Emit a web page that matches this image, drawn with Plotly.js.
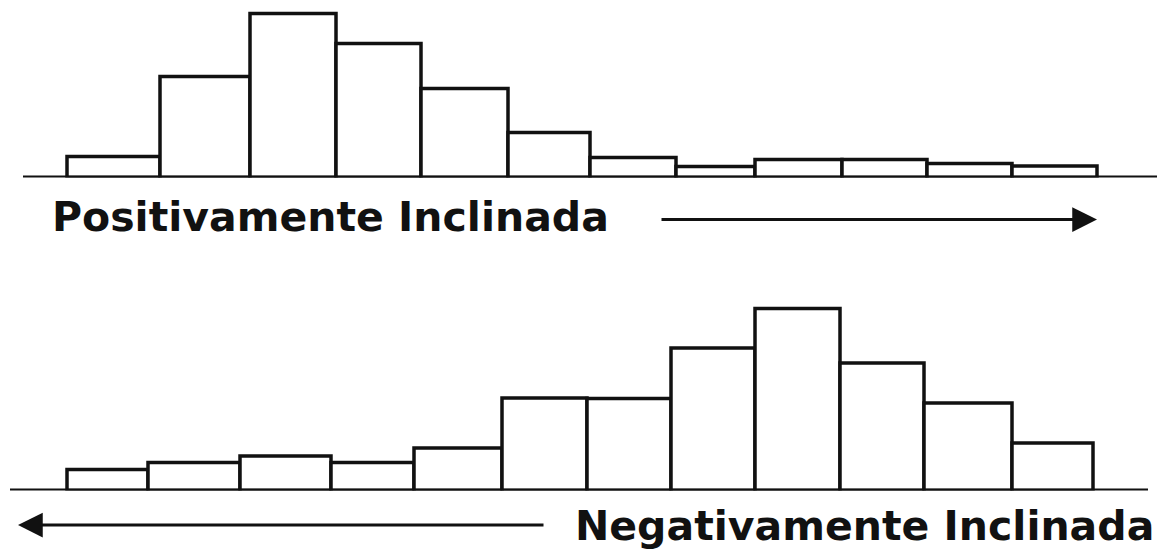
<!DOCTYPE html>
<html>
<head>
<meta charset="utf-8">
<script src="https://cdn.plot.ly/plotly-3.0.1.min.js"></script>
<style>
  html, body { margin: 0; padding: 0; background: #ffffff; }
  #chart { width: 1157px; height: 549px; }
</style>
</head>
<body>
<div id="chart"></div>
<script>
// ---- Data (bin edges and frequencies) ----
const topEdges = [67, 160, 250, 336, 421, 508, 590, 676, 755, 842, 927, 1012, 1097];
const topFreq = [21, 101, 164, 134, 89, 45, 20, 11, 18, 18, 14, 11.5];
const bottomEdges = [67, 148, 240, 331, 414, 502, 587, 671, 755, 840, 924, 1012, 1093];
const bottomFreq = [21, 28, 34.5, 28, 42.5, 92.5, 92, 142.5, 182, 127.5, 87.5, 47.5];
const topLabel = 'Positivamente Inclinada';
const bottomLabel = 'Negativamente Inclinada';

// ---- Helpers ----
function centers(edges) { return edges.slice(0, -1).map((e, i) => (e + edges[i + 1]) / 2); }
function widths(edges) { return edges.slice(0, -1).map((e, i) => edges[i + 1] - e); }

const W = 1157, H = 549;
const ink = '#111111';
const lineW = 3.5;

const traces = [
  {
    type: 'bar', x: centers(topEdges), y: topFreq, width: widths(topEdges),
    xaxis: 'x', yaxis: 'y', cliponaxis: false, hoverinfo: 'skip',
    marker: { color: '#ffffff', line: { color: ink, width: lineW } }
  },
  {
    type: 'bar', x: centers(bottomEdges), y: bottomFreq, width: widths(bottomEdges),
    xaxis: 'x2', yaxis: 'y2', cliponaxis: false, hoverinfo: 'skip',
    marker: { color: '#ffffff', line: { color: ink, width: lineW } }
  }
];

const topBase = 177.5, botBase = 490.5;
const py = p => 1 - p / H;

const hidden = { visible: false, fixedrange: true, showgrid: false, zeroline: false };

const labelFont = { family: 'DejaVu Sans', size: 41, weight: 'bold', color: ink };

const layout = {
  width: W, height: H,
  margin: { l: 0, r: 0, t: 0, b: 0, pad: 0 },
  paper_bgcolor: '#ffffff', plot_bgcolor: 'rgba(0,0,0,0)',
  showlegend: false,
  xaxis: Object.assign({ range: [0, W], domain: [0, 1], anchor: 'y' }, hidden),
  yaxis: Object.assign({ range: [0, topBase], domain: [py(topBase), 1], anchor: 'x' }, hidden),
  xaxis2: Object.assign({ range: [0, W], domain: [0, 1], anchor: 'y2' }, hidden),
  yaxis2: Object.assign({ range: [0, botBase - 290], domain: [py(botBase), py(290)], anchor: 'x2' }, hidden),
  shapes: [
    { type: 'line', xref: 'x', yref: 'y', x0: 23, x1: W, y0: 0, y1: 0, line: { color: ink, width: 4 } },
    { type: 'line', xref: 'x2', yref: 'y2', x0: 10, x1: 1148, y0: 0, y1: 0, line: { color: ink, width: 4 } }
  ],
  annotations: [
    { text: topLabel, showarrow: false, xref: 'paper', yref: 'paper',
      x: 50 / W, xanchor: 'left', y: py(217), yanchor: 'middle', font: labelFont },
    { text: bottomLabel, showarrow: false, xref: 'paper', yref: 'paper',
      x: 1156 / W, xanchor: 'right', y: py(526), yanchor: 'middle', font: labelFont },
    { text: '', showarrow: true, xref: 'x', axref: 'x', x: 1097, ax: 660,
      yref: 'paper', y: py(219.5), ayref: 'pixel', ay: 0,
      arrowhead: 2, arrowsize: 1.65, arrowwidth: 3, arrowcolor: ink, standoff: 0 },
    { text: '', showarrow: true, xref: 'x2', axref: 'x2', x: 18, ax: 545,
      yref: 'paper', y: py(525), ayref: 'pixel', ay: 0,
      arrowhead: 2, arrowsize: 1.65, arrowwidth: 3, arrowcolor: ink, standoff: 0 }
  ]
};

Plotly.newPlot('chart', traces, layout, { staticPlot: true, displayModeBar: false });
</script>
</body>
</html>
